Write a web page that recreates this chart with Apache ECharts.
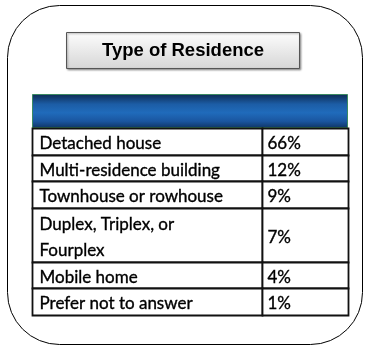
<!DOCTYPE html>
<html>
<head>
<meta charset="utf-8">
<style>
html,body{margin:0;padding:0;background:#fff;}
#chart{width:368px;height:347px;}
</style>
<script src="https://cdn.jsdelivr.net/npm/echarts@6/dist/echarts.min.js"></script>
</head>
<body>
<div id="chart"></div>
<script>
// ---- data ----
var titleText = 'Type of Residence';
var categories = ['Detached house', 'Multi-residence building', 'Townhouse or rowhouse', 'Duplex, Triplex, or\nFourplex', 'Mobile home', 'Prefer not to answer'];
var percents = [66, 12, 9, 7, 4, 1];

// ---- build ----
var lineCounts = categories.map(function (c) { return c.split('\n').length; });
var starts = [];
var acc = 0;
lineCounts.forEach(function (n) { starts.push(acc); acc += n; });
var totalLines = acc;

var seriesData = categories.map(function (c, i) {
  return [i, starts[i], lineCounts[i], percents[i]];
});

var FONT = 'Lato, "Noto Sans", sans-serif';
var chart = echarts.init(document.getElementById('chart'), null, { renderer: 'canvas' });
chart.setOption({
  backgroundColor: '#ffffff',
  animation: false,
  grid: { left: 32, right: 20, top: 128, bottom: 32 },
  xAxis: { type: 'value', min: 0, max: 1, show: false },
  yAxis: { type: 'value', min: 0, max: totalLines, inverse: true, show: false },
  graphic: [
    { type: 'rect', z: 0, shape: { x: 7.5, y: 5.5, width: 355, height: 339, r: 52 },
      style: { fill: '#ffffff', stroke: '#000', lineWidth: 1 } },
    { type: 'rect', z: 5, shape: { x: 66.5, y: 32.5, width: 233, height: 36 },
      style: { fill: new echarts.graphic.LinearGradient(0, 0, 0, 1, [
        { offset: 0, color: '#fdfdfd' }, { offset: 1, color: '#d6d6d6' }]),
        stroke: '#555', lineWidth: 1,
        shadowColor: 'rgba(0,0,0,0.35)', shadowBlur: 2, shadowOffsetX: 1, shadowOffsetY: 1 } },
    { type: 'text', z: 6, x: 183, y: 51,
      style: { text: titleText, fill: '#000', font: 'bold 18.5px "Liberation Sans", Arial, sans-serif',
        align: 'center', verticalAlign: 'middle' } },
    { type: 'rect', z: 5, shape: { x: 32.5, y: 94.5, width: 315, height: 33 },
      style: { fill: new echarts.graphic.LinearGradient(0, 0, 0, 1, [
        { offset: 0, color: '#0e2b52' }, { offset: 0.3, color: '#1c5da6' },
        { offset: 0.55, color: '#206bbb' }, { offset: 0.8, color: '#1a56a0' }, { offset: 1, color: '#0f3566' }]),
        stroke: '#3b8a62', lineWidth: 1 } }
  ],
  series: [{
    type: 'custom',
    coordinateSystem: 'cartesian2d',
    encode: { x: -1, y: 1 },
    data: seriesData,
    z: 10,
    renderItem: function (params, api) {
      var start = api.value(1), span = api.value(2), idx = api.value(0);
      var tl = api.coord([0, start]);
      var br = api.coord([1, start + span]);
      var mid = api.coord([0.728, start]);
      var x0 = Math.round(tl[0]) + 0.5, y0 = Math.round(tl[1]) + 0.5;
      var x1 = Math.round(br[0]) + 0.5, y1 = Math.round(br[1]) + 0.5;
      var xd = Math.round(mid[0]) + 0.5;
      var cy = (y0 + y1) / 2;
      var lineStyle = { fill: '#fff', stroke: '#111', lineWidth: 1.8 };
      var txt = { fill: '#000', font: '17px ' + FONT, verticalAlign: 'middle', align: 'left',
        stroke: '#000', lineWidth: 0.35 };
      return {
        type: 'group',
        children: [
          { type: 'rect', shape: { x: x0, y: y0, width: xd - x0, height: y1 - y0 }, style: lineStyle },
          { type: 'rect', shape: { x: xd, y: y0, width: x1 - xd, height: y1 - y0 }, style: lineStyle },
          { type: 'text', style: Object.assign({ x: x0 + 7, y: cy + 2, text: categories[idx], lineHeight: 26 }, txt) },
          { type: 'text', style: Object.assign({ x: xd + 5, y: cy + 2, text: api.value(3) + '%' }, txt) }
        ]
      };
    }
  }]
});
</script>
</body>
</html>
